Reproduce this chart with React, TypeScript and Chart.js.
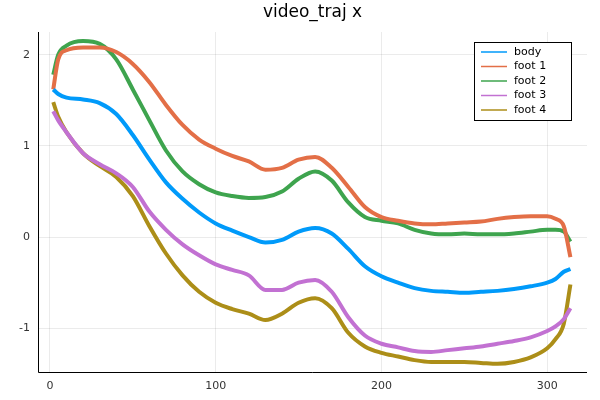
import React, { useEffect, useRef } from "react";
import { Chart, registerables } from "chart.js";
Chart.register(...registerables);

const xs = [2,5,10,20,30,40,50,60,70,80,90,100,110,120,130,140,150,160,170,180,190,200,210,220,230,240,250,260,270,280,290,300,305,310,314];
const body = [1.62,1.57,1.53,1.51,1.47,1.35,1.12,0.85,0.6,0.42,0.27,0.15,0.07,0.0,-0.06,-0.03,0.06,0.1,0.04,-0.13,-0.32,-0.43,-0.5,-0.56,-0.59,-0.6,-0.61,-0.6,-0.59,-0.57,-0.54,-0.5,-0.46,-0.38,-0.35];
const foot1 = [1.62,1.95,2.05,2.08,2.08,2.03,1.9,1.7,1.45,1.23,1.07,0.97,0.89,0.83,0.74,0.76,0.85,0.88,0.76,0.55,0.33,0.22,0.18,0.15,0.14,0.15,0.16,0.17,0.2,0.22,0.23,0.23,0.2,0.12,-0.22];
const foot2 = [1.78,2.0,2.1,2.15,2.12,1.95,1.62,1.28,0.95,0.72,0.58,0.49,0.45,0.43,0.44,0.5,0.64,0.72,0.62,0.38,0.22,0.18,0.15,0.08,0.04,0.03,0.04,0.03,0.03,0.04,0.06,0.08,0.08,0.06,-0.05];
const foot3 = [1.38,1.28,1.15,0.92,0.8,0.7,0.55,0.28,0.08,-0.08,-0.2,-0.3,-0.36,-0.42,-0.58,-0.58,-0.5,-0.47,-0.6,-0.88,-1.08,-1.17,-1.21,-1.25,-1.26,-1.24,-1.22,-1.2,-1.17,-1.14,-1.1,-1.03,-0.98,-0.9,-0.78];
const foot4 = [1.48,1.32,1.15,0.92,0.78,0.66,0.45,0.12,-0.18,-0.42,-0.6,-0.72,-0.79,-0.84,-0.91,-0.84,-0.72,-0.67,-0.78,-1.05,-1.2,-1.27,-1.31,-1.35,-1.37,-1.37,-1.37,-1.38,-1.39,-1.37,-1.32,-1.22,-1.12,-0.95,-0.52];
const names = ["body","foot 1","foot 2","foot 3","foot 4"];
const colors = ["#009AFA","#E36F47","#3EA44E","#C271D2","#AC8E18"];
const xTicks = [0,100,200,300];
const yTicks = [-1,0,1,2];
const title = "video_traj x";

const overlay = {
  id: "overlay",
  afterDraw(chart: any) {
    const { ctx, chartArea: a } = chart;
    ctx.save();
    ctx.fillStyle = "#000";
    ctx.font = "17px 'DejaVu Sans', sans-serif";
    ctx.textAlign = "center";
    ctx.textBaseline = "middle";
    ctx.fillText(title, (a.left + a.right) / 2, 13);
    // frame
    ctx.strokeStyle = "#000";
    ctx.lineWidth = 1;
    ctx.beginPath();
    ctx.moveTo(a.left + 0.5, a.top);
    ctx.lineTo(a.left + 0.5, a.bottom + 0.5);
    ctx.lineTo(a.right, a.bottom + 0.5);
    ctx.stroke();
    // legend
    const lx = 474, ly = 42, lw = 97, lh = 78;
    ctx.fillStyle = "#fff";
    ctx.fillRect(lx, ly, lw, lh);
    ctx.strokeRect(lx + 0.5, ly + 0.5, lw, lh);
    ctx.font = "11px 'DejaVu Sans', sans-serif";
    ctx.textAlign = "left";
    names.forEach((n, i) => {
      const y = ly + 10 + i * 14.5;
      ctx.strokeStyle = colors[i];
      ctx.lineWidth = 1.5;
      ctx.beginPath();
      ctx.moveTo(lx + 7, y);
      ctx.lineTo(lx + 33, y);
      ctx.stroke();
      ctx.fillStyle = "#000";
      ctx.fillText(n, lx + 40, y);
    });
    ctx.restore();
  },
};

export default function App() {
  const ref = useRef<HTMLCanvasElement>(null);
  useEffect(() => {
    document.body.style.margin = "0";
    const series = [body, foot1, foot2, foot3, foot4];
    const chart = new Chart(ref.current!, {
      type: "line",
      data: {
        datasets: series.map((s, i) => ({
          label: names[i],
          data: s.map((v, j) => ({ x: xs[j], y: v })),
          borderColor: colors[i],
          borderWidth: 4,
          pointRadius: 0,
          tension: 0.4,
          cubicInterpolationMode: "monotone" as const,
          fill: false,
        })),
      },
      options: {
        animation: false,
        responsive: false,
        layout: { padding: { top: 32, right: 13, left: 0, bottom: 0 } },
        plugins: { legend: { display: false }, title: { display: false }, tooltip: { enabled: false } },
        scales: {
          x: {
            type: "linear",
            min: -7.2,
            max: 324,
            afterBuildTicks: (s: any) => { s.ticks = xTicks.map((v) => ({ value: v })); },
            afterFit: (s: any) => { s.height = 28; },
            grid: { color: "rgba(0,0,0,0.08)", drawTicks: false },
            border: { display: false },
            ticks: { color: "#333", font: { size: 11, family: "'DejaVu Sans', sans-serif" }, padding: 8 },
          },
          y: {
            type: "linear",
            min: -1.48,
            max: 2.25,
            afterBuildTicks: (s: any) => { s.ticks = yTicks.map((v) => ({ value: v })); },
            afterFit: (s: any) => { s.width = 38; },
            grid: { color: "rgba(0,0,0,0.08)", drawTicks: false },
            border: { display: false },
            ticks: { color: "#333", font: { size: 11, family: "'DejaVu Sans', sans-serif" }, padding: 8 },
          },
        },
      },
      plugins: [overlay],
    });
    return () => chart.destroy();
  }, []);
  return <canvas ref={ref} width={600} height={400} style={{ display: "block" }} />;
}
